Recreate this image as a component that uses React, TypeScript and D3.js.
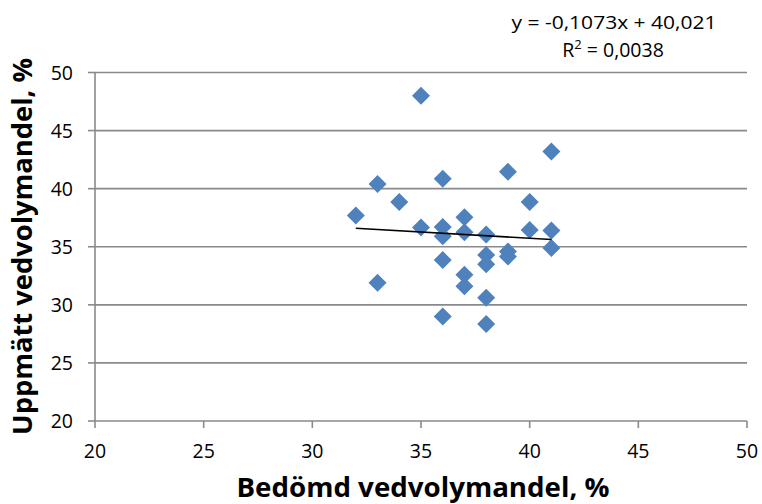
import React from "react";
import * as d3 from "d3";

const xValues = [35, 41, 39, 36, 33, 34, 40, 32, 37, 35, 36, 36, 37, 38, 40, 41, 41, 39, 39, 38, 38, 36, 37, 37, 33, 38, 36, 38];
const yValues = [48.0, 43.2, 41.45, 40.85, 40.4, 38.85, 38.85, 37.7, 37.55, 36.65, 36.7, 35.9, 36.25, 36.05, 36.45, 36.4, 34.9, 34.6, 34.15, 34.3, 33.5, 33.85, 32.6, 31.6, 31.9, 30.6, 29.0, 28.35];
const xTicks = [20, 25, 30, 35, 40, 45, 50];
const yTicks = [20, 25, 30, 35, 40, 45, 50];
const trendSlope = -0.1073;
const trendIntercept = 40.021;
const equationText = "y = -0,1073x + 40,021";
const r2Text = "0,0038";
const xTitle = "Bedömd vedvolymandel, %";
const yTitle = "Uppmätt vedvolymandel, %";

const W = 762;
const H = 504;
const left = 95;
const right = 747;
const top = 72.5;
const bottom = 421;
const font = "'Open Sans', 'Liberation Sans', sans-serif";

export default function App() {
  const x = d3.scaleLinear().domain([20, 50]).range([left, right]);
  const y = d3.scaleLinear().domain([20, 50]).range([bottom, top]);
  const xExt = d3.extent(xValues) as [number, number];
  const trend = d3.line<number>().x((d) => x(d)).y((d) => y(trendSlope * d + trendIntercept));
  const diamond = d3.symbol().type(d3.symbolSquare).size(162)();
  const gridColor = "#8a8a8a";
  return (
    <svg width={W} height={H} style={{ position: "absolute", left: 0, top: 0, background: "#fff" }}>
      <rect x={0} y={0} width={W} height={H} fill="#fff" />
      {yTicks.map((t) => (
        <g key={"y" + t}>
          {t !== 20 && <line x1={left} x2={right} y1={y(t)} y2={y(t)} stroke={gridColor} strokeWidth={1.6} />}
          <line x1={left - 7} x2={left} y1={y(t)} y2={y(t)} stroke={gridColor} strokeWidth={1.6} />
          <text x={73} y={y(t) + 7} textAnchor="end" fontFamily={font} fontSize={19.5} fill="#000">{t}</text>
        </g>
      ))}
      {xTicks.map((t) => (
        <g key={"x" + t}>
          <line x1={x(t)} x2={x(t)} y1={bottom} y2={bottom + 7} stroke={gridColor} strokeWidth={1.6} />
          <text x={x(t)} y={458} textAnchor="middle" fontFamily={font} fontSize={19.5} fill="#000">{t}</text>
        </g>
      ))}
      <line x1={left} x2={left} y1={top} y2={bottom} stroke={gridColor} strokeWidth={1.6} />
      <line x1={left} x2={right} y1={bottom} y2={bottom} stroke={gridColor} strokeWidth={1.6} />
      {xValues.map((xv, i) => (
        <path key={i} d={diamond || ""} transform={`translate(${x(xv)},${y(yValues[i])}) rotate(45)`} fill="#4F81BD" />
      ))}
      <path d={trend([xExt[0], xExt[1]]) || ""} stroke="#000" strokeWidth={1.6} fill="none" />
      <text x={614} y={29} textAnchor="middle" fontFamily={font} fontSize={19} fill="#000" textLength={205} lengthAdjust="spacingAndGlyphs">{equationText}</text>
      <text x={613} y={57} textAnchor="middle" fontFamily={font} fontSize={19.5} fill="#000">
        R<tspan dy={-8} fontSize={13}>2</tspan><tspan dy={8}>{" = " + r2Text}</tspan>
      </text>
      <text x={423} y={497} textAnchor="middle" fontFamily={font} fontWeight="bold" fontSize={26.5} fill="#000" textLength={373} lengthAdjust="spacingAndGlyphs">{xTitle}</text>
      <text transform={`translate(31.5,${246.5}) rotate(-90)`} textAnchor="middle" fontFamily={font} fontWeight="bold" fontSize={26.5} fill="#000" textLength={377} lengthAdjust="spacingAndGlyphs">{yTitle}</text>
    </svg>
  );
}
